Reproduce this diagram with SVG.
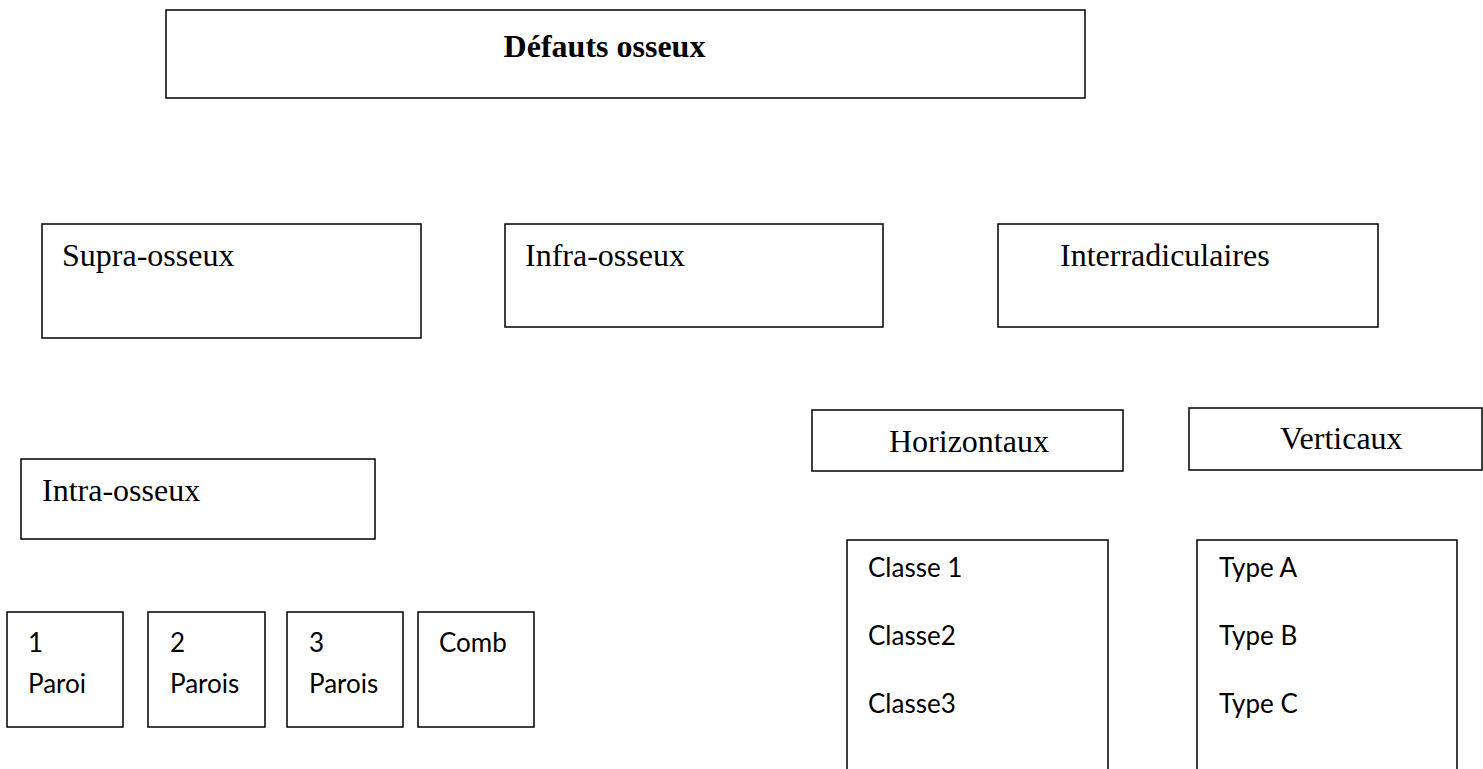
<svg xmlns="http://www.w3.org/2000/svg" width="1483" height="769" viewBox="0 0 1483 769">
<style>
.b{fill:#fff;stroke:#000;stroke-width:1.5}
.t{font-family:"Liberation Serif",serif;font-size:32px;fill:#000}
.c{font-family:Lato,"Liberation Sans",sans-serif;font-size:26px;fill:#000}
</style>
<rect width="1483" height="769" fill="#fff"/>
<g id="defauts"><rect class="b" x="166" y="10" width="919" height="88"/><text class="t" x="604.5" y="57" text-anchor="middle" font-weight="bold" font-size="37.5">Défauts osseux</text></g>
<g id="supra"><rect class="b" x="42" y="224" width="379" height="114"/><text class="t" x="62" y="266">Supra-osseux</text></g>
<g id="infra"><rect class="b" x="505" y="224" width="378" height="103"/><text class="t" x="525" y="266">Infra-osseux</text></g>
<g id="inter"><rect class="b" x="998" y="224" width="380" height="103"/><text class="t" x="1060" y="266">Interradiculaires</text></g>
<g id="horiz"><rect class="b" x="812" y="410" width="311" height="61"/><text class="t" x="889" y="452">Horizontaux</text></g>
<g id="vert"><rect class="b" x="1189" y="408" width="293" height="62"/><text class="t" x="1280" y="449" font-size="28.5">Verticaux</text></g>
<g id="intra"><rect class="b" x="21" y="459" width="354" height="80"/><text class="t" x="42" y="501">Intra-osseux</text></g>
<g id="p1"><rect class="b" x="7" y="612" width="116" height="115"/><text class="c" x="28" y="652">1</text><text class="c" x="28" y="693">Paroi</text></g>
<g id="p2"><rect class="b" x="148" y="612" width="117" height="115"/><text class="c" x="170" y="652">2</text><text class="c" x="170" y="693">Parois</text></g>
<g id="p3"><rect class="b" x="287" y="612" width="116" height="115"/><text class="c" x="309" y="652">3</text><text class="c" x="309" y="693">Parois</text></g>
<g id="comb"><rect class="b" x="418" y="612" width="116" height="115"/><text class="c" x="439" y="652">Comb</text></g>
<g id="classes"><path class="b" fill="none" d="M847,772 V540 H1108 V772"/><text class="c" x="868" y="577">Classe 1</text><text class="c" x="868" y="645">Classe2</text><text class="c" x="868" y="713">Classe3</text></g>
<g id="types"><path class="b" fill="none" d="M1197,772 V540 H1457 V772"/><text class="c" x="1219" y="577">Type A</text><text class="c" x="1219" y="645">Type B</text><text class="c" x="1219" y="713">Type C</text></g>
<g id="connectors"></g>
</svg>
